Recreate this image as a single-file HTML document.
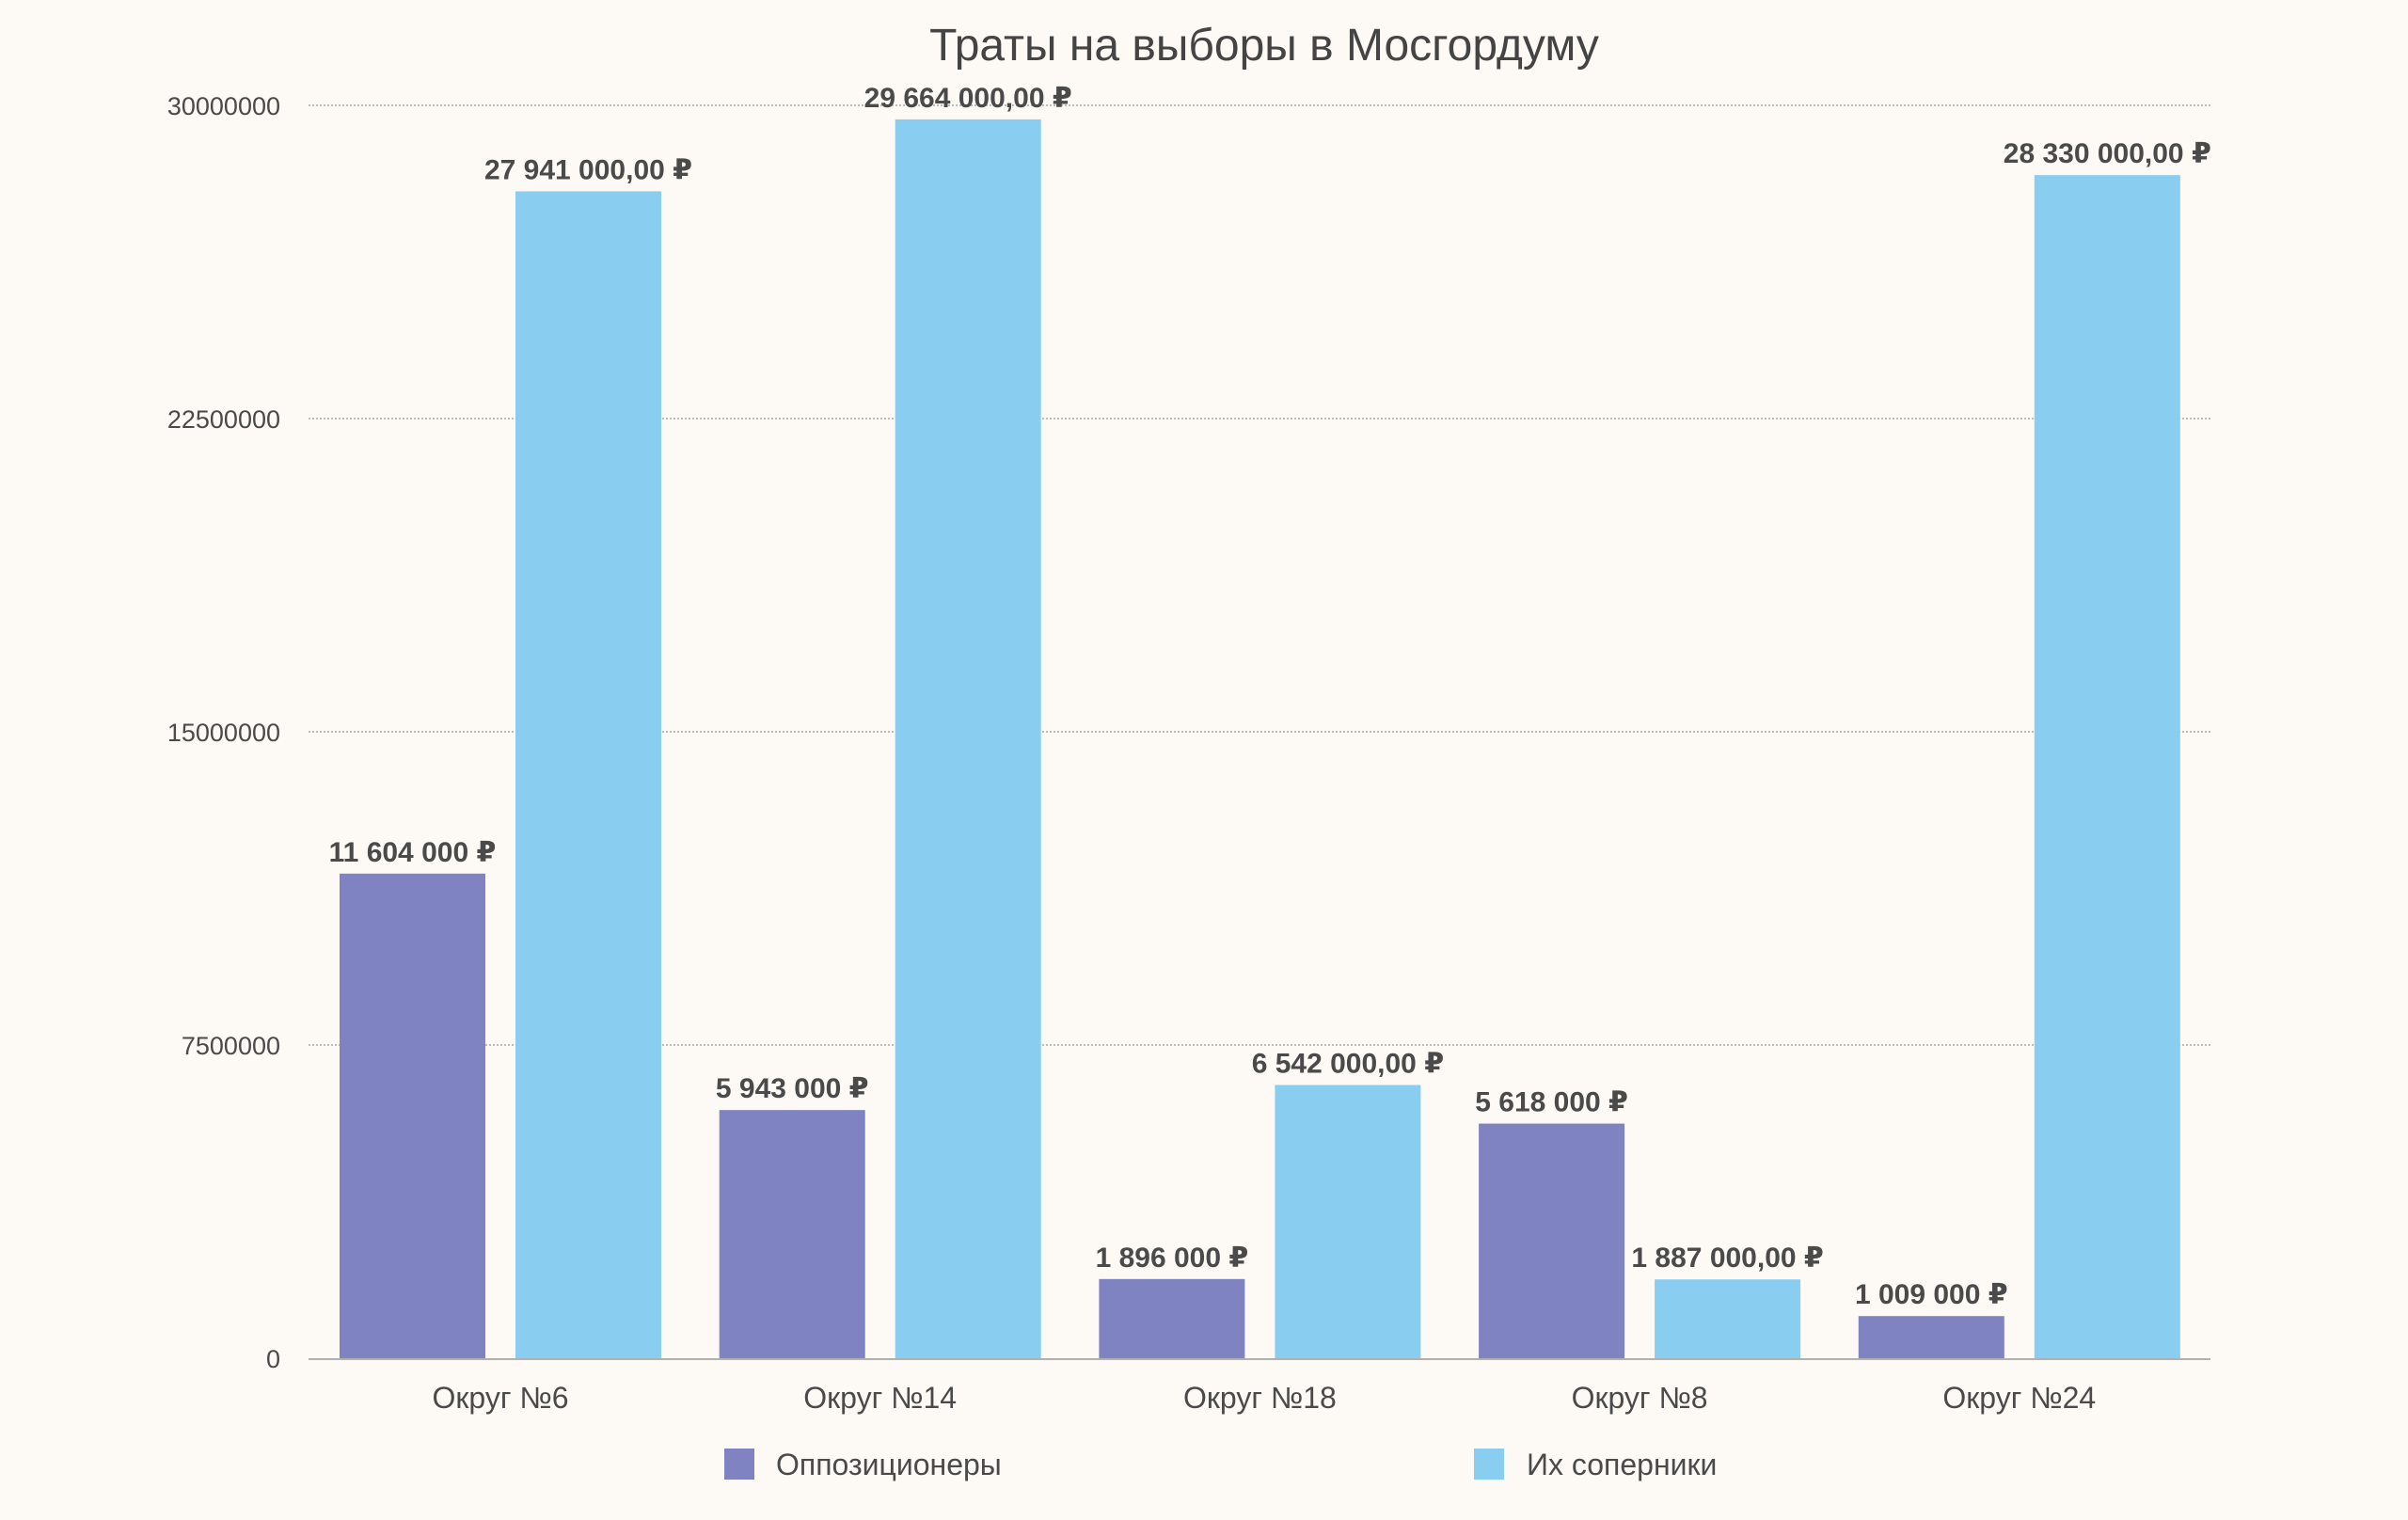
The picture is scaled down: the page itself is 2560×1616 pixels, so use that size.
<!DOCTYPE html>
<html><head><meta charset="utf-8">
<style>
html,body{margin:0;padding:0;background:#fdfaf5;}
svg{display:block;font-family:"Liberation Sans","DejaVu Sans",sans-serif;}
</style></head>
<body>
<svg id="chart" width="2560" height="1616" viewBox="0 0 2560 1616" xmlns="http://www.w3.org/2000/svg">
<rect width="2560" height="1616" fill="#fdfaf5"/>
<text x="1344" y="64" text-anchor="middle" font-size="48" fill="#444">Траты на выборы в Мосгордуму</text>
<g id="grid"></g>
<g id="bars"></g>
<g id="labels"></g>
<g id="legend">
<rect x="770" y="1540" width="32" height="33" fill="#7f83c1"/>
<text x="825" y="1568" font-size="32" fill="#4a4a4a">Оппозиционеры</text>
<rect x="1567" y="1540" width="32" height="33" fill="#89cdf0"/>
<text x="1623" y="1568" font-size="32" fill="#4a4a4a">Их соперники</text>
</g>
</svg>
<script>
const categories = ["Округ №6","Округ №14","Округ №18","Округ №8","Округ №24"];
const opposition = [11604000, 5943000, 1896000, 5618000, 1009000];
const rivals = [27941000, 29664000, 6542000, 1887000, 28330000];
const oppLabels = ["11 604 000 ₽","5 943 000 ₽","1 896 000 ₽","5 618 000 ₽","1 009 000 ₽"];
const rivalLabels = ["27 941 000,00 ₽","29 664 000,00 ₽","6 542 000,00 ₽","1 887 000,00 ₽","28 330 000,00 ₽"];
const ticks = [0, 7500000, 15000000, 22500000, 30000000];

const NS = "http://www.w3.org/2000/svg";
const X0 = 328, X1 = 2350, Y0 = 1444, YTOP = 112, YMAX = 30000000;
const FIRST = 361, PITCH = 403.7, BW = 155, GAP = 32;
function y(v){ return Y0 - (v / YMAX) * (Y0 - YTOP); }
function xOpp(i){ return FIRST + i * PITCH; }
function xRiv(i){ return xOpp(i) + BW + GAP; }
function mk(tag, attrs, parent){
  const e = document.createElementNS(NS, tag);
  for (const k in attrs) e.setAttribute(k, attrs[k]);
  parent.appendChild(e);
  return e;
}
const grid = document.getElementById('grid');
const bars = document.getElementById('bars');
const labels = document.getElementById('labels');

ticks.forEach((t) => {
  const yy = y(t);
  if (t !== 0) {
    const l = mk('line', {x1: X0, x2: X1, y1: yy, y2: yy, stroke: '#a8a8a8', 'stroke-width': 1.5, 'stroke-dasharray': '2 2'}, grid);
    
    
  }
  const tx = mk('text', {x: 298, y: yy + 10, 'text-anchor': 'end', 'font-size': 27, fill: '#4a4a4a'}, grid);
  tx.textContent = String(t);
  
  
});
const axis = mk('line', {x1: X0, x2: X1, y1: Y0 + 1, y2: Y0 + 1, stroke: '#b0b0b0', 'stroke-width': 2}, grid);



categories.forEach((c, i) => {
  const yo = y(opposition[i]);
  const b1 = mk('rect', {x: xOpp(i), y: yo, width: BW, height: Y0 - yo, fill: '#7f83c1'}, bars);
  
  
  const yr = y(rivals[i]);
  const b2 = mk('rect', {x: xRiv(i), y: yr, width: BW, height: Y0 - yr, fill: '#89cdf0'}, bars);
  
  

  const l1 = mk('text', {x: xOpp(i) + BW / 2, y: yo - 13, 'text-anchor': 'middle', 'font-size': 30, 'font-weight': '600', fill: '#4a4a4a'}, labels);
  l1.textContent = oppLabels[i];
  
  
  const l2 = mk('text', {x: xRiv(i) + BW / 2, y: yr - 13, 'text-anchor': 'middle', 'font-size': 30, 'font-weight': '600', fill: '#4a4a4a'}, labels);
  l2.textContent = rivalLabels[i];
  
  

  const cl = mk('text', {x: (xOpp(i) + xRiv(i) + BW) / 2, y: 1497, 'text-anchor': 'middle', 'font-size': 32, fill: '#4a4a4a'}, labels);
  cl.textContent = c;
  
  
});
</script>
</body></html>
